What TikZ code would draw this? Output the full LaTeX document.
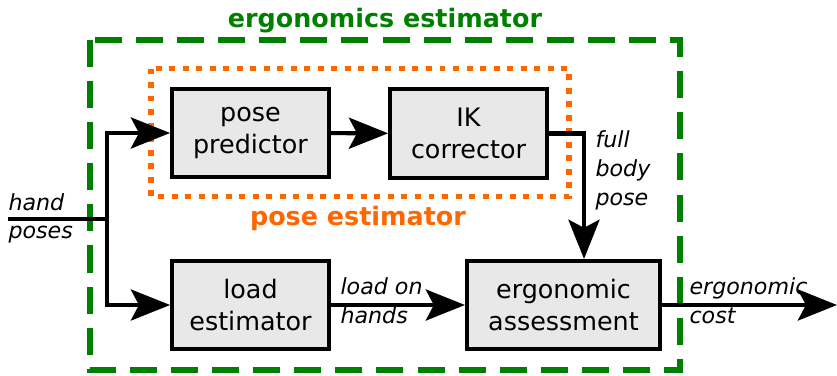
\documentclass[tikz,border=0pt]{standalone}
\usepackage{fontspec}
\setmainfont{DejaVu Sans}
\usetikzlibrary{arrows.meta}
\definecolor{estGreen}{RGB}{0,128,0}
\definecolor{poseOrange}{RGB}{255,102,0}
\definecolor{blockGray}{RGB}{232,232,232}
\newcommand{\blockFont}{\fontsize{9.4}{11.7}\selectfont}
\newcommand{\sigFont}{\fontsize{8.2}{10.7}\selectfont\itshape}
\newcommand{\frameWidth}{2.2pt}
\newcommand{\linkWidth}{1.5pt}

\tikzset{
  block/.style={draw, line width=\linkWidth, fill=blockGray, align=center,
    inner sep=0pt, minimum width=58pt, minimum height=32.6pt, font=\blockFont},
  link/.style={line width=\linkWidth, -{Stealth[length=14.5pt,width=11.5pt,inset=3pt]}},
  sig/.style={anchor=north west, align=left, inner sep=0pt, font=\sigFont},
  title/.style={anchor=base, inner sep=0pt, font=\blockFont\bfseries}
}

\begin{document}
\begin{tikzpicture}[x=0.013cm, y=-0.013cm]
\useasboundingbox (0,0) rectangle (837,375);

% frames
\draw[estGreen, line width=\frameWidth, dash pattern=on 10pt off 5.2pt]
  (90,40) rectangle (680,370);
\draw[poseOrange, line width=\frameWidth, dash pattern=on 2.2pt off 2.8pt]
  (151,68.5) rectangle (569,196.5);
\node[title, text=estGreen] (ergotitle) at (385,27) {ergonomics estimator};
\node[title, text=poseOrange] (posetitle) at (358,225) {pose estimator};

% blocks
\node[block] (pose) at (250.5,133) {pose\\predictor};
\node[block] (ik) at (468.5,133.5) {IK\\corrector};
\node[block] (load) at (250.5,305) {load\\estimator};
\node[block, minimum width=71.4pt] (ergo) at (563.5,305) {ergonomic\\assessment};

\coordinate (in) at (8,219);
\coordinate (split) at (107,219);
\coordinate (drop) at (584,200);
\coordinate (out) at (837,305);

% connectors
\draw[line width=\linkWidth] (in) -- (split);
\draw[link] (split) |- (pose.west);
\draw[link] (split) |- (load.west);
\draw[link] (pose) -- (ik);
\draw[link] (ik.east) -| (ergo.north -| drop);
\draw[link] (load) -- (ergo);
\draw[link] (ergo) -- (out);

% signal labels
\node[sig] (handlbl) at (8,193) {hand};
\node[sig] (poseslbl) at (8,226) {poses};
\node[sig] (fulllbl) at (595,130) {full\\body\\pose};
\node[sig] (loadlbl) at (340,277) {load on\\hands};
\node[sig] (costlbl) at (689,277) {ergonomic\\cost};
\end{tikzpicture}
\end{document}
